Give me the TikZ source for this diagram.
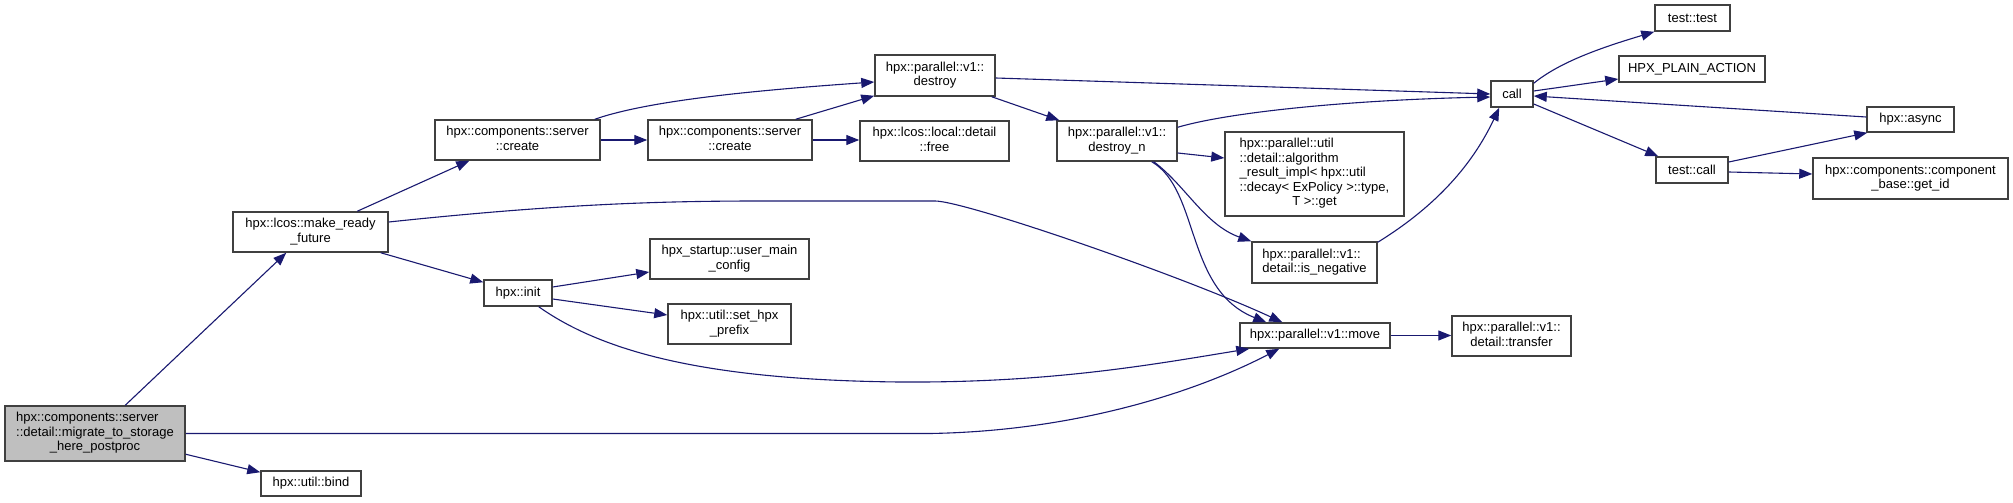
\documentclass[tikz,border=0pt]{standalone}
\usepackage{fontspec}
\setmainfont{Liberation Sans}
\usetikzlibrary{arrows.meta,calc}
\definecolor{edgec}{HTML}{191970}
\newcommand{\ml}[2]{\begin{tabular}{@{}l@{}}#1\\\multicolumn{1}{@{}c@{}}{#2}\end{tabular}}
\begin{document}
\begin{tikzpicture}[x=1pt,y=-1pt,
  fn/.style={draw=black!75, line width=1.5pt, fill=white, inner sep=0pt,
    font=\fontsize{13}{14.5}\selectfont, text=black},
  ed/.style={draw=edgec, line width=1.1pt, -{Triangle[length=13pt,width=10pt]}}]
\fill[white] (0,0) rectangle (2013,503);
\useasboundingbox (0,0) rectangle (2013,503);
% nodes
\node[fn, fill=black!25, minimum width=180pt, minimum height=55pt] (mig) at (95,433.5)
  {\ml{hpx::components::server\\::detail::migrate\_to\_storage}{\_here\_postproc}};
\node[fn, minimum width=100pt, minimum height=25pt] (bind) at (311,483.5) {hpx::util::bind};
\node[fn, minimum width=155pt, minimum height=40pt] (mrf) at (310.5,232)
  {\ml{hpx::lcos::make\_ready}{\_future}};
\node[fn, minimum width=165pt, minimum height=40pt] (cr1) at (517.5,140)
  {\ml{hpx::components::server}{::create}};
\node[fn, minimum width=68pt, minimum height=26pt] (init) at (518,293) {hpx::init};
\node[fn, minimum width=120pt, minimum height=41pt] (destroy) at (935,75.5)
  {\ml{hpx::parallel::v1::}{destroy}};
\node[fn, minimum width=164pt, minimum height=40pt] (cr2) at (730,140)
  {\ml{hpx::components::server}{::create}};
\node[fn, minimum width=149pt, minimum height=40pt] (free) at (934.5,141)
  {\ml{hpx::lcos::local::detail}{::free}};
\node[fn, minimum width=120pt, minimum height=40pt] (destroyn) at (1117,141)
  {\ml{hpx::parallel::v1::}{destroy\_n}};
\node[fn, minimum width=159pt, minimum height=40pt] (umc) at (729.5,259)
  {\ml{hpx\_startup::user\_main}{\_config}};
\node[fn, minimum width=123pt, minimum height=40pt] (shp) at (729.5,324)
  {\ml{hpx::util::set\_hpx}{\_prefix}};
\node[fn, minimum width=75pt, minimum height=26pt] (ttest) at (1692.5,18) {test::test};
\node[fn, minimum width=146pt, minimum height=26pt] (hpa) at (1692,69) {HPX\_PLAIN\_ACTION};
\node[fn, minimum width=42pt, minimum height=26pt] (call) at (1512,94) {call};
\node[fn, minimum width=87pt, minimum height=25pt] (async) at (1910.5,119.5) {hpx::async};
\node[fn, minimum width=72pt, minimum height=26pt] (tcall) at (1692,170) {test::call};
\node[fn, minimum width=195pt, minimum height=41pt] (getid) at (1910.5,178.5)
  {\ml{hpx::components::component}{\_base::get\_id}};
\node[fn, minimum width=179pt, minimum height=84pt] (algo) at (1314.5,174)
  {\ml{hpx::parallel::util\\::detail::algorithm\\\_result\_impl< hpx::util\\::decay< ExPolicy >::type,}{T >::get}};
\node[fn, minimum width=125pt, minimum height=41pt] (isneg) at (1314.5,262.5)
  {\ml{hpx::parallel::v1::}{detail::is\_negative}};
\node[fn, minimum width=150pt, minimum height=25pt] (move) at (1315,335.5) {hpx::parallel::v1::move};
\node[fn, minimum width=119pt, minimum height=40pt] (transfer) at (1511.5,336)
  {\ml{hpx::parallel::v1::}{detail::transfer}};
% edges
\draw[ed] ($(mig.north west)+(121,0)$) -- ($(mrf.south west)+(54,0)$);
\draw[ed] ($(mig.north east)+(0,49)$) -- ($(bind.north west)+(0,2)$);
\draw[ed] (mig.east) -- (930,433.5) .. controls (1080,431) and (1200,390) .. ($(move.south west)+(40,0)$);
\draw[ed] ($(mrf.north west)+(125,0)$) -- ($(cr1.south west)+(35,0)$);
\draw[ed] ($(mrf.south east)+(-8,0)$) -- ($(init.north west)+(0,3)$);
\draw[ed] ($(mrf.east)+(0,-10)$) .. controls (550,205) and (650,201) .. (760,201) -- (935,201)
  .. controls (965,201) and (1180,275) .. ($(move.north west)+(43,0)$);
\draw[ed] ($(cr1.north east)+(-6,0)$) .. controls (650,100) and (760,90) .. ($(destroy.west)+(0,6.5)$);
\draw[ed] (cr1.east) -- (cr2.west);
\draw[ed] ($(cr2.north east)+(-17,0)$) -- ($(destroy.south west)+(0,-1)$);
\draw[ed] (cr2.east) -- (cr2.east -| free.west);
\draw[ed] ($(destroy.east)+(0,2.5)$) -- (call.west);
\draw[ed] ($(destroy.south east)+(-4,0)$) -- ($(destroyn.north west)+(3,0)$);
\draw[ed] ($(destroyn.north east)+(0,7)$) .. controls (1230,112) and (1350,100) .. ($(call.west)+(0,3)$);
\draw[ed] ($(destroyn.east)+(0,12)$) -- ($(algo.west)+(0,-16)$);
\draw[ed] ($(destroyn.south east)+(-24,0)$) .. controls (1185,185) and (1205,225) .. (isneg.north west);
\draw[ed] ($(destroyn.south east)+(-26,0)$) .. controls (1200,190) and (1185,290) .. ($(move.north west)+(27,0)$);
\draw[ed] ($(isneg.north east)+(0,1)$) .. controls (1430,210) and (1470,170) .. ($(call.south west)+(9,0)$);
\draw[ed] ($(call.north east)+(0,3)$) .. controls (1560,62) and (1600,48) .. (ttest.south west);
\draw[ed] ($(call.east)+(0,-3)$) -- ($(hpa.west)+(0,10)$);
\draw[ed] ($(call.east)+(0,10)$) -- ($(tcall.north west)+(3,0)$);
\draw[ed] ($(async.west)+(0,-2.5)$) -- ($(call.east)+(0,2)$);
\draw[ed] ($(tcall.east)+(0,-8)$) -- ($(async.south west)+(1,0)$);
\draw[ed] ($(tcall.east)+(0,2)$) -- ($(getid.west)+(0,-4.5)$);
\draw[ed] ($(init.east)+(0,-6)$) -- ($(umc.west)+(0,13)$);
\draw[ed] ($(init.east)+(0,6)$) -- ($(shp.west)+(0,-9)$);
\draw[ed] ($(init.south east)+(-14,0)$) .. controls (600,350) and (700,380) .. (900,382)
  .. controls (1050,383) and (1150,365) .. ($(move.south west)+(10,0)$);
\draw[ed] (move.east) -- (move.east -| transfer.west);
\end{tikzpicture}
\end{document}
